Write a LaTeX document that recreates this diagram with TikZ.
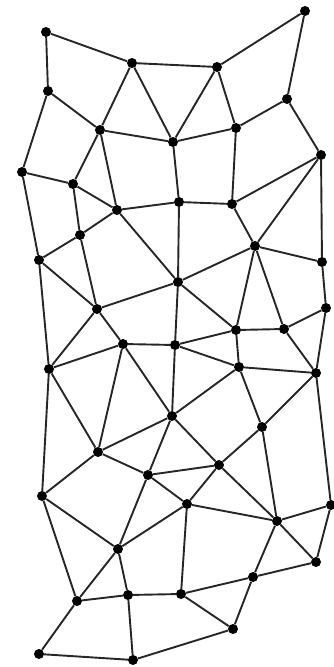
\documentclass[tikz,border=0pt]{standalone}
\begin{document}
\begin{tikzpicture}[x=1pt,y=-1pt,
  dot/.style={circle,fill=black,inner sep=0pt,minimum size=10pt},
  edge/.style={line width=1.9pt,draw=black!85}]
\useasboundingbox (0,0) rectangle (333,667);
\foreach \n/\x/\y in {A/46/32,B/305/11,C/132/63,D/217/67,E/48/91,F/287/99,G/100/130,H/173/142,I/236/128,J/321/155,K/22/172,L/73/184,M/117/210,N/179/202,O/232/204,P/80/235,Q/255/246,R/39/260,S/178/282,T/322/262,U/97/309,V/326/308,W/236/330,X/284/329,Y/123/344,Z/175/345,xa/49/369,xb/239/367,xc/316/373,xd/172/416,xe/262/427,xf/98/452,xg/148/475,xh/219/465,xi/42/496,xj/187/504,xk/277/521,xl/331/505,xm/118/549,xn/253/577,xu/316/562,xo/77/601,xp/128/595,xq/181/594,xr/233/629,xs/39/654,xt/133/660}
  \node[dot] (\n) at (\x,\y) {};
\foreach \a/\b in {A/C,A/E,C/D,C/G,C/H,D/B,D/H,D/I,B/F,F/I,F/J,H/I,E/G,E/K,G/H,G/L,G/M,H/N,I/O,J/O,J/Q,J/T,K/L,K/R,L/M,L/P,M/N,M/P,M/S,N/O,N/S,O/Q,P/R,P/U,R/U,R/xa,Q/T,Q/S,Q/W,Q/X,T/V,V/X,V/xc,S/W,S/U,S/Z,W/X,Z/W,Z/Y,U/Y,U/xa,Y/xa,Y/xf,Y/xd,Z/xb,W/xb,Z/xd,X/xc,xb/xc,xb/xd,xb/xe,xe/xc,xc/xl,xd/xh,xd/xf,xd/xg,xa/xf,xa/xi,xf/xi,xf/xg,xg/xh,xg/xj,xg/xm,xe/xh,xe/xk,xh/xk,xh/xj,xi/xm,xi/xo,xm/xj,xm/xo,xm/xp,xo/xp,xo/xs,xs/xt,xp/xt,xp/xq,xj/xk,xj/xq,xk/xl,xk/xu,xl/xu,xu/xn,xk/xn,xq/xn,xq/xr,xn/xr,xr/xt}
  \draw[edge] (\a) -- (\b);
\end{tikzpicture}
\end{document}
